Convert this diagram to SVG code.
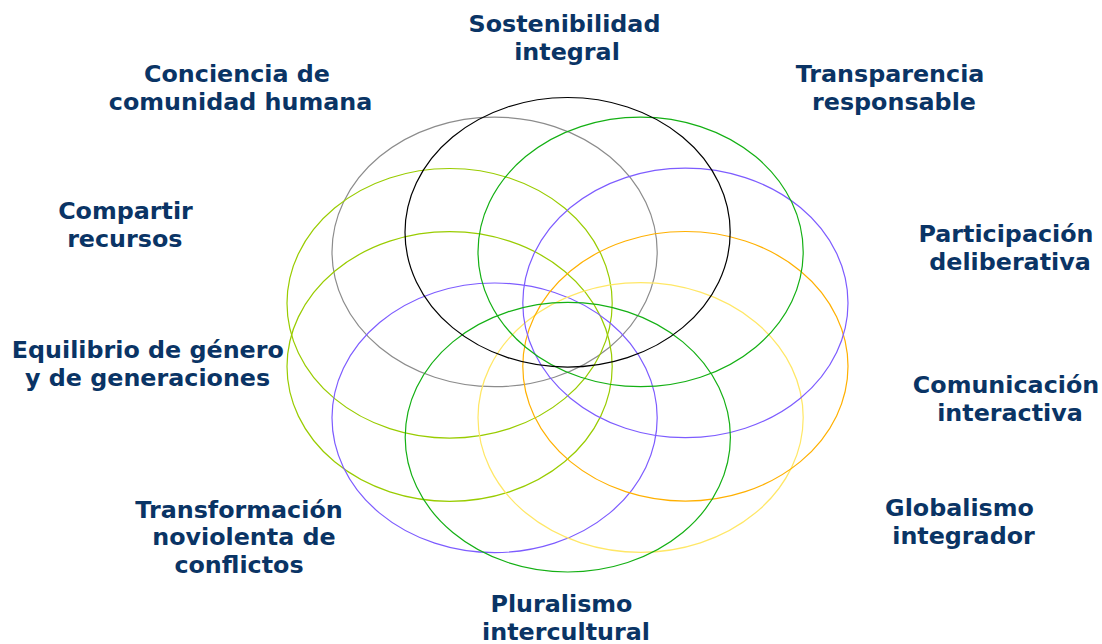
<svg xmlns="http://www.w3.org/2000/svg" width="1102" height="644" viewBox="0 0 1102 644">
<style>
.e{fill:none;stroke-width:1.2}
.t{font-family:"DejaVu Sans",sans-serif;font-weight:bold;font-size:23.8px;fill:#0a3465;text-anchor:middle}
</style>
<rect width="1102" height="644" fill="#fff"/>
<g id="rings">
<ellipse id="r-gray" class="e" cx="494.6" cy="251.9" rx="162.6" ry="134.8" stroke="#8c8c8c"/>
<ellipse id="r-yg1" class="e" cx="449.6" cy="303.3" rx="162.6" ry="134.8" stroke="#99cc00"/>
<ellipse id="r-yg2" class="e" cx="449.6" cy="366.5" rx="162.6" ry="134.8" stroke="#99cc00"/>
<ellipse id="r-purple2" class="e" cx="494.6" cy="417.8" rx="162.6" ry="134.8" stroke="#7d5cff"/>
<ellipse id="r-yellow" class="e" cx="640.6" cy="417.5" rx="162.6" ry="134.8" stroke="#ffe766"/>
<ellipse id="r-orange" class="e" cx="685.4" cy="366.3" rx="162.6" ry="134.8" stroke="#ffb000"/>
<ellipse id="r-purple1" class="e" cx="685.4" cy="302.9" rx="162.6" ry="134.8" stroke="#7d5cff"/>
<ellipse id="r-green1" class="e" cx="640.6" cy="251.9" rx="162.6" ry="134.8" stroke="#14b014"/>
<ellipse id="r-green2" class="e" cx="567.8" cy="437.2" rx="162.6" ry="134.8" stroke="#14b014"/>
<ellipse id="r-black" class="e" cx="567.6" cy="232.3" rx="162.6" ry="134.8" stroke="#000"/>
</g>
<g id="labels">
<g id="l-sostenibilidad"><text class="t" x="564.5" y="31.5">Sostenibilidad</text><text class="t" x="567" y="59.5">integral</text></g>
<g id="l-transparencia"><text class="t" x="890" y="81.5">Transparencia</text><text class="t" x="894" y="109.5">responsable</text></g>
<g id="l-participacion"><text class="t" x="1006" y="241.5">Participación</text><text class="t" x="1010" y="269.5">deliberativa</text></g>
<g id="l-comunicacion"><text class="t" x="1006" y="392.5">Comunicación</text><text class="t" x="1010" y="420.5">interactiva</text></g>
<g id="l-globalismo"><text class="t" x="959.5" y="516">Globalismo</text><text class="t" x="963.5" y="544">integrador</text></g>
<g id="l-pluralismo"><text class="t" x="561.5" y="612">Pluralismo</text><text class="t" x="566" y="640">intercultural</text></g>
<g id="l-transformacion"><text class="t" x="239" y="517.5">Transformación</text><text class="t" x="244" y="545">noviolenta de</text><text class="t" x="239" y="572.5">conflictos</text></g>
<g id="l-equilibrio"><text class="t" x="147.8" y="357.5">Equilibrio de género</text><text class="t" x="147.6" y="385.5">y de generaciones</text></g>
<g id="l-compartir"><text class="t" x="125.5" y="218.5">Compartir</text><text class="t" x="124.8" y="246.5">recursos</text></g>
<g id="l-conciencia"><text class="t" x="237" y="81.5">Conciencia de</text><text class="t" x="240.6" y="109.5">comunidad humana</text></g>
</g>
</svg>
